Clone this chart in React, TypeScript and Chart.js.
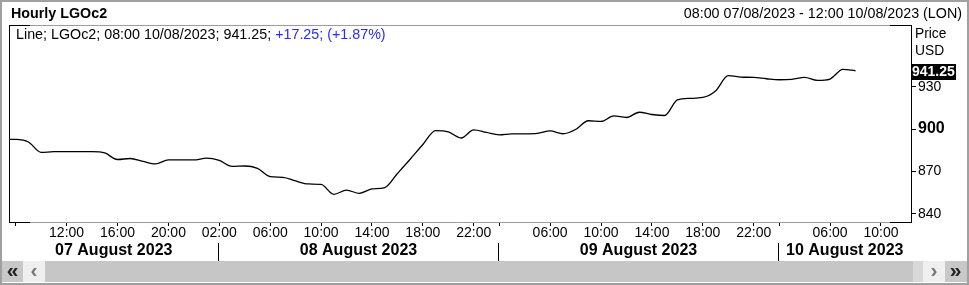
import React, { useEffect, useRef } from 'react';
import { Chart, registerables } from 'chart.js';

Chart.register(...registerables);

const FONT = '"Liberation Sans", Arial, Helvetica, sans-serif';

// Hourly slots (trading hours 01:00-22:00 London); slot 0 = 08:00 07/08/2023
const firstSlot = -1;
const prices = [
  892.8, 892.7, 890.9, 883.5, 884.0, 884.0, 884.0, 884.0, 883.1, 878.5,
  879.2, 877.1, 875.4, 878.2, 878.2, 878.2, 879.4, 877.8, 873.6, 873.9,
  872.2, 866.4, 865.9, 863.3, 861.2, 860.9, 853.9, 856.8, 854.6, 857.7,
  858.6, 868.6, 878.7, 889.1, 898.9, 898.0, 893.7, 899.4, 897.6, 895.9,
  896.6, 896.6, 896.9, 898.7, 896.7, 899.7, 905.9, 905.4, 909.3, 908.2,
  911.9, 910.3, 909.6, 920.6, 921.7, 922.4, 927.0, 937.8, 936.8, 936.5,
  935.6, 934.9, 935.2, 936.5, 934.4, 935.4, 942.2, 941.25,
];

const xTickSlots = [0, 4, 8, 12, 16, 20, 24, 28, 32, 36, 38, 42, 46, 50, 54, 58, 60, 64, 68];
const xTickLabels = [
  '', '12:00', '16:00', '20:00', '02:00', '06:00', '10:00', '14:00', '18:00', '22:00',
  '', '06:00', '10:00', '14:00', '18:00', '22:00', '', '06:00', '10:00',
];
const dayLabels = ['07 August 2023', '08 August 2023', '09 August 2023', '10 August 2023'];
const dayStartSlots = [16, 38, 60];
const yTicks = [840, 870, 900, 930];
const boldTick = 900;
const lastPrice = 941.25;
const lastLabel = '941.25';

const X_MIN = -0.527;
const X_MAX = 70.36;
const Y_MIN = 834.3;
const Y_MAX = 973.6;

const FRAME_GRAY = '#9a9aac';

const overlayPlugin = {
  id: 'overlay',
  afterDraw(chart: any) {
    const { ctx, chartArea: a, scales } = chart;
    const xs = scales.x;
    const ys = scales.y;
    ctx.save();
    ctx.lineWidth = 1;
    const seg = (x1: number, y1: number, x2: number, y2: number, c: string) => {
      ctx.strokeStyle = c;
      ctx.beginPath();
      ctx.moveTo(x1, y1);
      ctx.lineTo(x2, y2);
      ctx.stroke();
    };
    // plot frame
    seg(a.left, a.top + 0.5, a.right, a.top + 0.5, FRAME_GRAY);
    seg(a.left, a.top + 0.5, a.left + 21, a.top + 0.5, '#000');
    seg(a.right - 21, a.top + 0.5, a.right, a.top + 0.5, '#000');
    seg(a.left, a.bottom + 0.5, a.left + 21, a.bottom + 0.5, '#000');
    seg(a.right - 21, a.bottom + 0.5, a.right, a.bottom + 0.5, '#000');
    seg(a.left + 0.5, a.top, a.left + 0.5, a.bottom + 1, '#000');

    // day separators and labels
    const bounds = [a.left, ...dayStartSlots.map((s) => Math.round(xs.getPixelForValue(s)) - 0.5), a.right];
    for (let i = 0; i < dayStartSlots.length; i++) {
      const px = bounds[i + 1];
      seg(px, 243, px, 261, '#000');
    }
    ctx.fillStyle = '#000';
    ctx.font = `bold 16px ${FONT}`;
    ctx.textAlign = 'center';
    ctx.textBaseline = 'middle';
    for (let i = 0; i < dayLabels.length; i++) {
      ctx.fillText(dayLabels[i], (bounds[i] + bounds[i + 1]) / 2, 251);
    }

    // last value label
    const vy = ys.getPixelForValue(lastPrice);
    ctx.fillStyle = '#000';
    ctx.fillRect(a.right, Math.round(vy - 7), 45, 16);
    ctx.fillStyle = '#fff';
    ctx.font = `bold 14px ${FONT}`;
    ctx.textAlign = 'left';
    ctx.textBaseline = 'middle';
    ctx.fillText(lastLabel, a.right + 1, vy + 1.5);
    ctx.restore();
  },
};

export default function App() {
  const canvasRef = useRef<HTMLCanvasElement | null>(null);

  useEffect(() => {
    document.body.style.margin = '0';
    const canvas = canvasRef.current;
    if (!canvas) return;
    const chart = new Chart(canvas, {
      type: 'line',
      data: {
        datasets: [
          {
            data: prices.map((p, i) => ({ x: firstSlot + i, y: p })),
            borderColor: '#000',
            borderWidth: 1.3,
            pointRadius: 0,
            fill: false,
            cubicInterpolationMode: 'monotone',
          },
        ],
      },
      options: {
        animation: false,
        responsive: false,
        maintainAspectRatio: false,
        events: [],
        layout: { padding: { left: 9, top: 25, right: 0, bottom: 0 } },
        plugins: { legend: { display: false }, tooltip: { enabled: false }, title: { display: false } },
        scales: {
          x: {
            type: 'linear',
            position: 'bottom',
            min: X_MIN,
            max: X_MAX,
            afterBuildTicks: (s: any) => {
              s.ticks = xTickSlots.map((v) => ({ value: v }));
            },
            afterFit: (s: any) => {
              s.height = 63;
            },
            grid: { drawOnChartArea: false, drawTicks: true, tickLength: 4, tickColor: '#000', tickWidth: 1 },
            border: { display: true, color: FRAME_GRAY, width: 1 },
            ticks: {
              autoSkip: false,
              maxRotation: 0,
              minRotation: 0,
              padding: 0,
              color: '#000',
              font: { family: FONT, size: 14, lineHeight: '15px' },
              callback: (_v: any, i: number) => xTickLabels[i],
            },
          },
          y: {
            type: 'linear',
            position: 'right',
            min: Y_MIN,
            max: Y_MAX,
            afterBuildTicks: (s: any) => {
              s.ticks = yTicks.map((v) => ({ value: v }));
            },
            afterFit: (s: any) => {
              s.width = 58;
            },
            grid: { drawOnChartArea: false, drawTicks: true, tickLength: 5, tickColor: '#000' },
            border: { display: true, color: '#000', width: 1 },
            ticks: {
              padding: 2,
              color: '#000',
              font: (c: any) =>
                c.tick && c.tick.value === boldTick
                  ? { family: FONT, size: 16, weight: 'bold' }
                  : { family: FONT, size: 14 },
              callback: (v: any) => String(v),
            },
          },
        },
      } as any,
      plugins: [overlayPlugin],
    });
    return () => chart.destroy();
  }, []);

  const abs = (s: React.CSSProperties): React.CSSProperties => ({ position: 'absolute', ...s });
  const txt: React.CSSProperties = { fontFamily: FONT, fontSize: 14.3, lineHeight: '16px', whiteSpace: 'nowrap', color: '#000' };
  const chev: React.CSSProperties = { ...txt, top: 260, lineHeight: '20px', textAlign: 'center', fontWeight: 'bold', fontSize: 21 };

  return (
    <div style={{ position: 'relative', width: 969, height: 285, background: '#fff', overflow: 'hidden' }}>
      <canvas ref={canvasRef} width={969} height={285} style={{ position: 'absolute', left: 0, top: 0, display: 'block' }} />
      {/* outer frame */}
      <div style={abs({ left: 0, top: 0, width: 969, height: 285, boxSizing: 'border-box', border: '2px solid #a0a0a0', pointerEvents: 'none' })} />
      {/* header */}
      <div style={abs({ ...txt, left: 11, top: 5, fontWeight: 'bold' })}>Hourly LGOc2</div>
      <div style={abs({ ...txt, right: 7, top: 5 })}>08:00 07/08/2023 - 12:00 10/08/2023 (LON)</div>
      {/* legend line */}
      <div style={abs({ ...txt, left: 16, top: 26 })}>
        Line; LGOc2; 08:00 10/08/2023; 941.25; <span style={{ color: '#2a2aff' }}>+17.25; (+1.87%)</span>
      </div>
      {/* axis unit */}
      <div style={abs({ ...txt, left: 915, top: 26, fontSize: 13.8 })}>Price</div>
      <div style={abs({ ...txt, left: 915, top: 43, fontSize: 13.8 })}>USD</div>
      {/* scrollbar */}
      <div style={abs({ left: 2, top: 261, width: 21, height: 21, background: '#c8c8c8' })} />
      <div style={abs({ left: 23, top: 261, width: 22, height: 21, background: '#efefef' })} />
      <div style={abs({ left: 45, top: 261, width: 868, height: 21, background: '#c6c6c6' })} />
      <div style={abs({ left: 913, top: 261, width: 10, height: 21, background: '#d8d8d8' })} />
      <div style={abs({ left: 923, top: 261, width: 22, height: 21, background: '#efefef' })} />
      <div style={abs({ left: 945, top: 261, width: 22, height: 21, background: '#c8c8c8' })} />
      <div style={abs({ ...chev, left: 2, width: 21, color: '#222' })}>«</div>
      <div style={abs({ ...chev, left: 23, width: 22, color: '#777' })}>‹</div>
      <div style={abs({ ...chev, left: 923, width: 22, color: '#777' })}>›</div>
      <div style={abs({ ...chev, left: 945, width: 21, color: '#222' })}>»</div>
    </div>
  );
}
